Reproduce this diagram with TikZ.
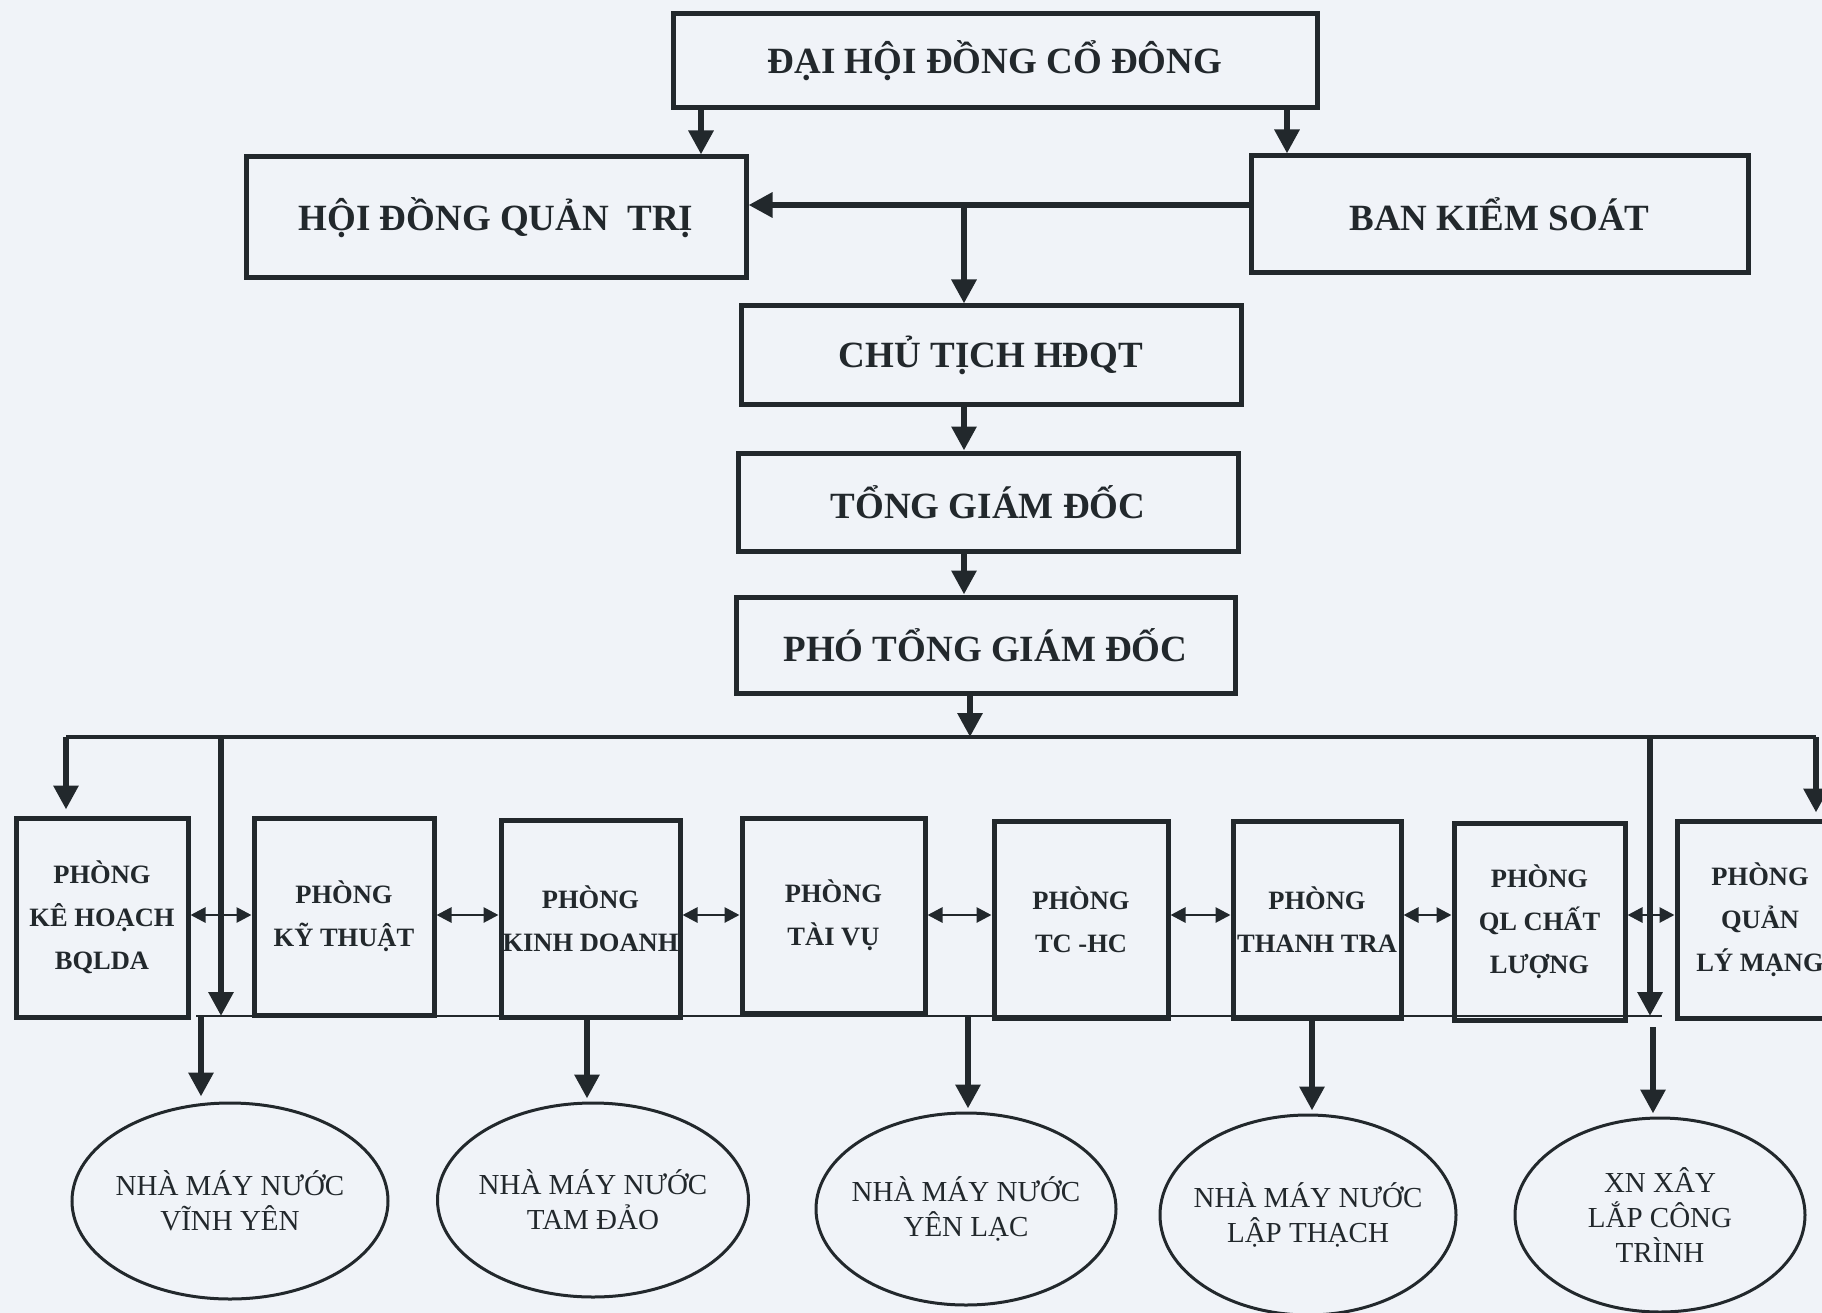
\documentclass[tikz,border=0pt]{standalone}
\usepackage{fontspec}
\setmainfont{Liberation Serif}
\usetikzlibrary{arrows.meta,shapes.geometric}
\definecolor{ink}{RGB}{34,40,44}
\definecolor{paper}{RGB}{240,243,248}
\begin{document}
\begin{tikzpicture}[x=1pt,y=-1pt,
  topbox/.style={draw=ink, line width=5pt, inner sep=0pt, align=center, text=ink,
    font=\fontsize{37}{44}\selectfont\bfseries},
  deptbox/.style={draw=ink, line width=5pt, inner sep=0pt, align=center, text=ink,
    font=\fontsize{26.5}{43}\selectfont\bfseries},
  plant/.style={ellipse, draw=ink, line width=3pt, inner xsep=-80pt, inner ysep=0pt,
    align=center, text=ink, font=\fontsize{29}{35}\selectfont},
  arr/.style={draw=ink, line width=6pt, -{Triangle[length=24pt,width=24pt]}},
  darr/.style={draw=ink, line width=2.8pt,
    {Triangle[length=15pt,width=15pt]}-{Triangle[length=15pt,width=15pt]}},
  bus/.style={draw=ink, line width=3.3pt},
  lowbus/.style={draw=ink, line width=2.5pt}]
\fill[paper] (0,0) rectangle (1822,1313);
\useasboundingbox (0,0) rectangle (1822,1313);

% top boxes
\node[topbox, minimum width=644pt, minimum height=94pt] (dhcd) at (995,61) {ĐẠI HỘI ĐỒNG CỔ ĐÔNG};
\node[topbox, minimum width=500pt, minimum height=121pt] (hdqt) at (496,217.5) {HỘI ĐỒNG QUẢN\ \ TRỊ};
\node[topbox, minimum width=497pt, minimum height=117pt] (bks) at (1499.5,214.5) {BAN KIỂM SOÁT};
\node[topbox, minimum width=500pt, minimum height=98pt] (ct) at (991,355) {CHỦ TỊCH HĐQT};
\node[topbox, minimum width=500pt, minimum height=98pt] (tgd) at (988,502) {TỔNG GIÁM ĐỐC};
\node[topbox, minimum width=499pt, minimum height=96pt] (ptgd) at (985.5,645) {PHÓ TỔNG GIÁM ĐỐC};

% department boxes
\node[deptbox, minimum width=172pt, minimum height=199pt] (b1) at (102,917.5) {PHÒNG\\KÊ HOẠCH\\BQLDA};
\node[deptbox, minimum width=180pt, minimum height=197pt] (b2) at (344,916.5) {PHÒNG\\KỸ THUẬT};
\node[deptbox, minimum width=179pt, minimum height=197pt] (b3) at (590.5,918.5) {PHÒNG\\KINH DOANH};
\node[deptbox, minimum width=183pt, minimum height=195pt] (b4) at (833.5,915.5) {PHÒNG\\TÀI VỤ};
\node[deptbox, minimum width=174pt, minimum height=197pt] (b5) at (1081,919.5) {PHÒNG\\TC -HC};
\node[deptbox, minimum width=168pt, minimum height=197pt] (b6) at (1317,919.5) {PHÒNG\\THANH TRA};
\node[deptbox, minimum width=171pt, minimum height=197pt] (b7) at (1539.5,921.5) {PHÒNG\\QL CHẤT\\LƯỢNG};
\node[deptbox, minimum width=166pt, minimum height=197pt] (b8) at (1760,919.5) {PHÒNG\\QUẢN\\LÝ MẠNG};

% plants
\node[plant, minimum width=316pt, minimum height=196pt] (e1) at (230,1201) {NHÀ MÁY NƯỚC\\VĨNH YÊN};
\node[plant, minimum width=311pt, minimum height=194pt] (e2) at (593,1200) {NHÀ MÁY NƯỚC\\TAM ĐẢO};
\node[plant, minimum width=300pt, minimum height=192pt] (e3) at (966,1209) {NHÀ MÁY NƯỚC\\YÊN LẠC};
\node[plant, minimum width=296pt, minimum height=200pt] (e4) at (1308,1215) {NHÀ MÁY NƯỚC\\LẬP THẠCH};
\node[plant, minimum width=290pt, minimum height=194pt] (e5) at (1660,1215) {XN XÂY\\LẮP CÔNG\\TRÌNH};

% helper coordinates
\coordinate (x701) at (701,0);
\coordinate (x1287) at (1287,0);
\coordinate (jy) at (0,205);
\coordinate (x964) at (964,0);
\coordinate (x970) at (970,0);
\coordinate (ybus) at (0,737);
\coordinate (x66) at (66,0);
\coordinate (x221) at (221,0);
\coordinate (x1650) at (1650,0);
\coordinate (x1816) at (1816,0);
\coordinate (yd) at (0,915);
\coordinate (ybot) at (0,1016);
\coordinate (ybot2) at (0,1027);
\coordinate (x196) at (196,0);
\coordinate (x1662) at (1662,0);
\coordinate (x201) at (201,0);
\coordinate (x587) at (587,0);
\coordinate (x968) at (968,0);
\coordinate (x1312) at (1312,0);
\coordinate (x1653) at (1653,0);

% top connectors
\draw[arr] (x701 |- dhcd.south) -- (x701 |- hdqt.north);
\draw[arr] (x1287 |- dhcd.south) -- (x1287 |- bks.north);
\draw[arr] (bks.west |- jy) -- (hdqt.east |- jy);
\draw[arr] (x964 |- jy) -- (x964 |- ct.north);
\draw[arr] (x964 |- ct.south) -- (x964 |- tgd.north);
\draw[arr] (x964 |- tgd.south) -- (x964 |- ptgd.north);
\draw[arr] (x970 |- ptgd.south) -- (x970 |- ybus);

% upper bus
\draw[bus] (x66 |- ybus) -- (x1816 |- ybus);
\draw[arr, shorten >=6pt] (x66 |- ybus) -- (x66 |- b1.north);
\draw[arr, shorten >=6pt] (x1816 |- ybus) -- (x1816 |- b8.north);
\draw[arr] (x221 |- ybus) -- (x221 |- ybot);
\draw[arr] (x1650 |- ybus) -- (x1650 |- ybot);

% lateral links
\draw[darr] (b1.east |- yd) -- (b2.west |- yd);
\draw[darr] (b2.east |- yd) -- (b3.west |- yd);
\draw[darr] (b3.east |- yd) -- (b4.west |- yd);
\draw[darr] (b4.east |- yd) -- (b5.west |- yd);
\draw[darr] (b5.east |- yd) -- (b6.west |- yd);
\draw[darr] (b6.east |- yd) -- (b7.west |- yd);
\draw[darr] (b7.east |- yd) -- (b8.west |- yd);

% lower bus
\draw[lowbus] (x196 |- ybot) -- (x1662 |- ybot);
\draw[arr, shorten >=5pt] (x201 |- ybot) -- (x201 |- e1.north);
\draw[arr, shorten >=3pt] (x587 |- ybot) -- (x587 |- e2.north);
\draw[arr, shorten >=3pt] (x968 |- ybot) -- (x968 |- e3.north);
\draw[arr, shorten >=3pt] (x1312 |- ybot) -- (x1312 |- e4.north);
\draw[arr, shorten >=3pt] (x1653 |- ybot2) -- (x1653 |- e5.north);
\end{tikzpicture}
\end{document}
